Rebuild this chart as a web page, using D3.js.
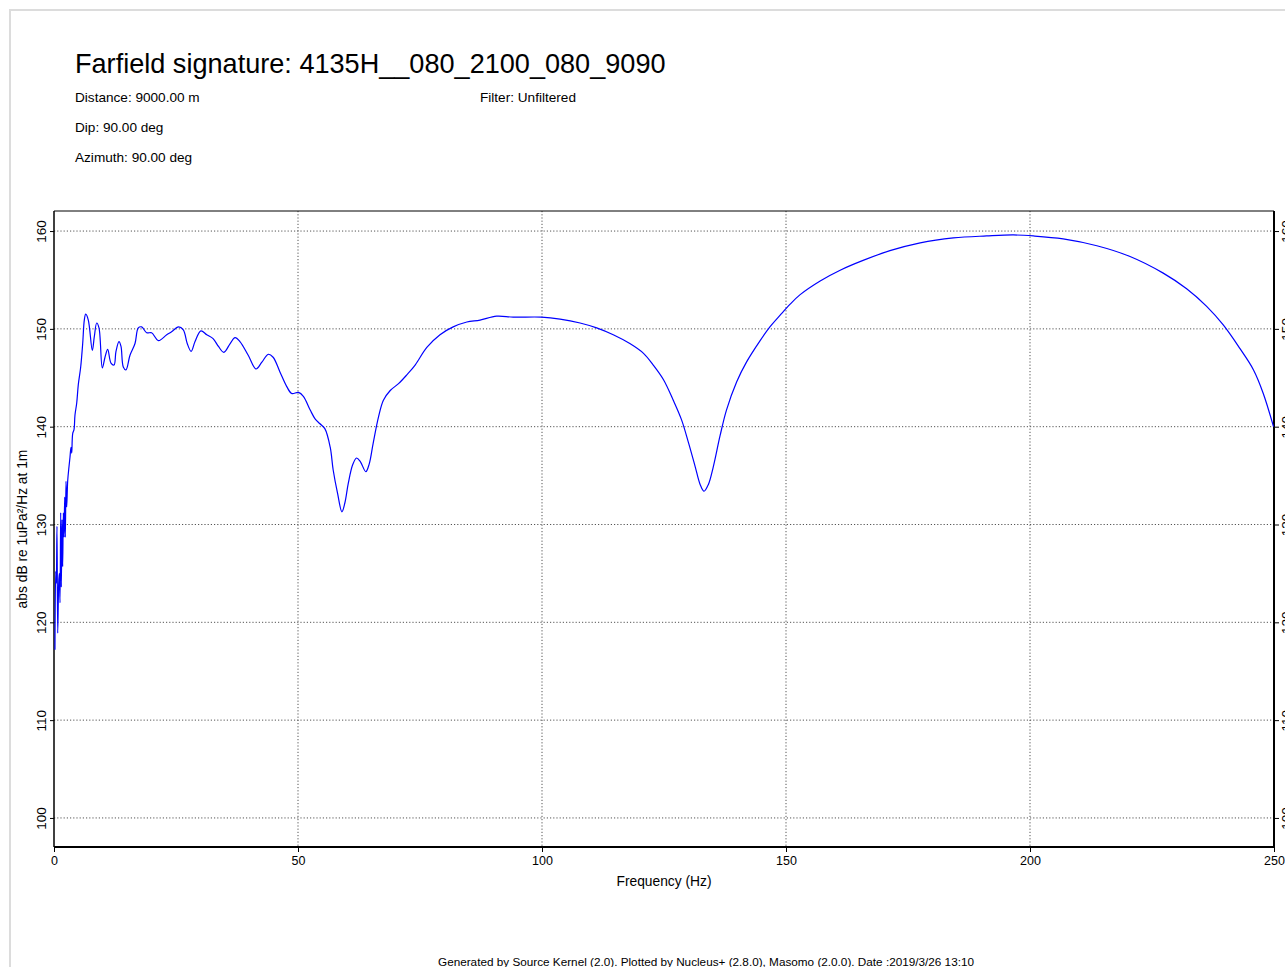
<!DOCTYPE html>
<html>
<head>
<meta charset="utf-8">
<script src="https://cdn.jsdelivr.net/npm/d3@7"></script>
<style>
  body { margin: 0; background: #fff; }
  text { font-family: "Liberation Sans", Arial, sans-serif; fill: #000; }
  .grid line { stroke: #555; stroke-dasharray: 1.2 2; stroke-width: 1; }
  .axis path { display: none; }
  .axis line { stroke: #000; }
</style>
</head>
<body>
<div id="chart"></div>
<script>
// frequency (Hz) and level (dB)
const freq = [0.2, 0.35, 0.47, 0.61, 0.76, 0.96, 1.09, 1.23, 1.37, 1.5, 1.64, 1.78, 1.91, 2.05, 2.19, 2.32, 2.46, 2.6, 2.81, 3.07,
  3.28, 3.48, 3.63, 3.83, 4.1, 4.3, 4.65, 4.98, 5.47, 5.88, 6.21, 6.5, 7.03, 7.85, 8.26, 8.75, 9.22, 9.9, 10.45, 11.0,
  11.68, 12.3, 12.7, 13.32, 13.73, 14.2, 14.75, 15.57, 16.6, 17.27, 17.97, 19.0, 20.0, 21.4, 23.1, 24.1, 25.5, 26.5, 27.3, 28.1,
  28.9, 30.1, 31.3, 32.6, 33.7, 34.8, 36.1, 37.1, 38.1, 39.8, 41.4, 42.6, 43.9, 44.9, 46.3, 47.7, 48.7, 50.1, 51.1, 52.5,
  53.5, 54.5, 55.5, 56.6, 57.2, 58.1, 59.0, 59.6, 60.3, 61.2, 62.0, 62.8, 63.9, 64.6, 65.4, 66.5, 67.5, 68.9, 70.6, 72.3,
  74.0, 76.4, 79.1, 81.8, 84.6, 87.3, 90.7, 94.1, 99.9, 103.7, 107.8, 111.2, 114.6, 118.0, 120.8, 122.8, 124.9, 126.9, 128.6, 130.0,
  131.4, 132.4, 133.2, 134.1, 135.1, 136.5, 137.8, 139.9, 141.9, 144.7, 146.7, 148.8, 150.8, 152.9, 157.0, 161.1, 165.8, 171.3, 177.5, 184.3,
  191.1, 196.6, 200.7, 206.8, 213.7, 220.5, 227.3, 232.1, 236.2, 239.6, 243.0, 245.8, 247.8, 249.9];
const level = [117.2, 125.2, 124.0, 129.8, 118.9, 124.0, 125.0, 122.0, 131.2, 123.6, 130.5, 125.7, 131.2, 128.7, 132.8, 128.7, 134.4, 131.8, 134.5, 135.9,
  136.9, 137.9, 137.3, 139.3, 139.7, 141.2, 142.4, 144.3, 146.1, 148.5, 150.9, 151.5, 150.9, 147.8, 149.2, 150.6, 150.1, 146.0, 147.1, 147.9,
  146.5, 146.3, 147.7, 148.7, 148.2, 146.1, 145.8, 147.3, 148.5, 150.1, 150.2, 149.6, 149.6, 148.8, 149.4, 149.7, 150.2, 149.9, 148.5, 147.7,
  148.7, 149.8, 149.4, 149.0, 148.2, 147.6, 148.5, 149.1, 148.7, 147.3, 145.9, 146.6, 147.4, 147.1, 145.6, 144.1, 143.4, 143.5, 143.1, 141.7,
  140.8, 140.3, 139.8, 137.9, 135.6, 133.2, 131.3, 132.2, 134.2, 136.1, 136.8, 136.4, 135.4, 136.2, 138.3, 141.0, 142.7, 143.7, 144.4, 145.3,
  146.3, 148.1, 149.4, 150.2, 150.7, 150.9, 151.3, 151.2, 151.2, 151.0, 150.6, 150.1, 149.4, 148.5, 147.5, 146.3, 144.8, 142.7, 140.7, 138.4,
  135.9, 134.1, 133.4, 134.1, 135.9, 139.1, 141.7, 144.6, 146.6, 148.8, 150.2, 151.4, 152.5, 153.5, 154.9, 156.0, 157.0, 158.0, 158.8, 159.3,
  159.5, 159.6, 159.5, 159.2, 158.5, 157.4, 155.7, 154.1, 152.3, 150.4, 148.0, 145.8, 143.4, 140.0];

const xTicks = [0, 50, 100, 150, 200, 250];
const yTicks = [100, 110, 120, 130, 140, 150, 160];

const title = 'Farfield signature: 4135H__080_2100_080_9090';
const infoLines = ['Distance: 9000.00 m', 'Dip: 90.00 deg', 'Azimuth: 90.00 deg'];
const filterText = 'Filter: Unfiltered';
const footer = 'Generated by Source Kernel (2.0). Plotted by Nucleus+ (2.8.0), Masomo (2.0.0). Date :2019/3/26 13:10';

const W = 1285, H = 967;
const margin = {top: 211, right: 11, bottom: 120, left: 54};
const width = W - margin.left - margin.right;
const height = H - margin.top - margin.bottom;

const root = d3.select('#chart').append('svg')
    .attr('width', W)
    .attr('height', H);

// page border
root.append('path')
    .attr('d', 'M10,' + H + 'V10H' + W)
    .attr('fill', 'none')
    .attr('stroke', '#dcdcdc')
    .attr('stroke-width', 2);

// header
root.append('text').attr('x', 75).attr('y', 73).attr('font-size', 27.1).text(title);
infoLines.forEach((t, i) => {
    root.append('text').attr('x', 75).attr('y', 102 + i * 30).attr('font-size', 13.6).text(t);
});
root.append('text').attr('x', 480).attr('y', 102).attr('font-size', 13.6).text(filterText);

const svg = root.append('g')
    .attr('transform', 'translate(' + margin.left + ',' + margin.top + ')');

const xScale = d3.scaleLinear()
    .domain([0, 250])
    .range([0, width]);

const yScale = d3.scaleLinear()
    .domain([97.03, 162.05])
    .range([height, 0]);

// grid
svg.append('g').attr('class', 'grid')
    .selectAll('line').data(xTicks.slice(1, -1)).join('line')
    .attr('x1', d => xScale(d)).attr('x2', d => xScale(d))
    .attr('y1', 0).attr('y2', height);

svg.append('g').attr('class', 'grid')
    .selectAll('line').data(yTicks).join('line')
    .attr('x1', 0).attr('x2', width)
    .attr('y1', d => yScale(d)).attr('y2', d => yScale(d));

// axes
const xAxis = d3.axisBottom(xScale).tickValues(xTicks).tickSize(5).tickPadding(4);
const xAxisGroup = svg.append('g')
    .attr('class', 'axis x-axis')
    .attr('transform', 'translate(0,' + height + ')')
    .call(xAxis);
xAxisGroup.selectAll('text').attr('font-size', 12.5);

const yAxis = d3.axisLeft(yScale).tickValues(yTicks).tickSize(4).tickFormat(d3.format('d'));
const yAxisGroup = svg.append('g')
    .attr('class', 'axis y-axis')
    .call(yAxis);
yAxisGroup.selectAll('text')
    .attr('font-size', 13.5)
    .attr('text-anchor', 'middle')
    .attr('dy', null)
    .attr('x', 0).attr('y', 0)
    .attr('transform', 'translate(-8,0) rotate(-90)');

// right axis, labels run off the page edge as in the original
const yAxisRight = d3.axisRight(yScale).tickValues(yTicks).tickSize(5).tickFormat(d3.format('d'));
const yRightGroup = svg.append('g')
    .attr('class', 'axis y-axis-right')
    .attr('transform', 'translate(' + width + ',0)')
    .call(yAxisRight);
yRightGroup.selectAll('text')
    .attr('font-size', 13.5)
    .attr('text-anchor', 'middle')
    .attr('dy', null)
    .attr('x', 0).attr('y', 0)
    .attr('transform', 'translate(17,0) rotate(-90)');

// frame
svg.append('line').attr('x1', 0).attr('x2', width).attr('y1', 0).attr('y2', 0)
    .attr('stroke', '#000').attr('stroke-width', 1);
svg.append('line').attr('x1', 0).attr('x2', 0).attr('y1', 0).attr('y2', height)
    .attr('stroke', '#000').attr('stroke-width', 1.5);
svg.append('line').attr('x1', 0).attr('x2', width).attr('y1', height).attr('y2', height)
    .attr('stroke', '#000').attr('stroke-width', 2);
svg.append('line').attr('x1', width).attr('x2', width).attr('y1', 0).attr('y2', height)
    .attr('stroke', '#000').attr('stroke-width', 2);

// curve
const data = freq.map((f, i) => ({f: f, v: level[i]}));
const line = d3.line()
    .x(d => xScale(d.f))
    .y(d => yScale(d.v))
    .curve(d3.curveCatmullRom.alpha(0.5));

svg.append('path')
    .datum(data)
    .attr('fill', 'none')
    .attr('stroke', '#0000ff')
    .attr('stroke-width', 1.2)
    .attr('d', line);

// axis labels
svg.append('text')
    .attr('x', width / 2).attr('y', height + 39)
    .attr('text-anchor', 'middle').attr('font-size', 13.8)
    .text('Frequency (Hz)');

svg.append('text')
    .attr('transform', 'translate(' + (27 - margin.left) + ',' + (height / 2) + ') rotate(-90)')
    .attr('text-anchor', 'middle').attr('font-size', 13.8)
    .text('abs dB re 1uPa\u00b2/Hz at 1m');

root.append('text')
    .attr('x', 706).attr('y', 966)
    .attr('text-anchor', 'middle').attr('font-size', 10)
    .attr('textLength', 536).attr('lengthAdjust', 'spacingAndGlyphs')
    .text(footer);
</script>
</body>
</html>
